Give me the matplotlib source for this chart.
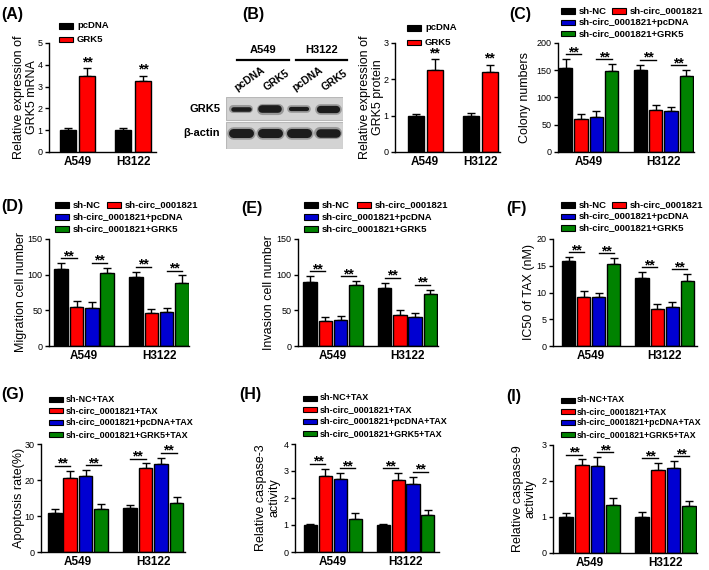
import numpy as np
import matplotlib.pyplot as plt
from matplotlib.patches import Rectangle

plt.rcParams['font.family'] = ['Liberation Sans', 'DejaVu Sans']

# Figure size in pixels
W, H = 709, 570

groups = ['A549', 'H3122']

# colours used by the series
c_black, c_red, c_blue, c_green = '#000000', '#ff0000', '#0000d2', '#008200'
four_colors = [c_black, c_red, c_blue, c_green]

# (A) GRK5 mRNA, rows = A549, H3122 ; cols = pcDNA, GRK5
a_labels = ['pcDNA', 'GRK5']
a_mean = [[1.0, 3.5], [1.0, 3.25]]
a_err = [[0.1, 0.35], [0.1, 0.25]]

# (B) GRK5 protein
b_labels = ['pcDNA', 'GRK5']
b_mean = [[1.0, 2.25], [1.0, 2.2]]
b_err = [[0.05, 0.3], [0.08, 0.2]]

# western blot lanes and band strength
blot_lanes = ['pcDNA', 'GRK5', 'pcDNA', 'GRK5']
blot_rows = ['GRK5', 'β-actin']
grk5_band = [0.6, 1.0, 0.55, 0.95]
actin_band = [1.0, 1.0, 1.0, 0.95]

sh_labels = ['sh-NC', 'sh-circ_0001821', 'sh-circ_0001821+pcDNA', 'sh-circ_0001821+GRK5']
tax_labels = ['sh-NC+TAX', 'sh-circ_0001821+TAX', 'sh-circ_0001821+pcDNA+TAX',
              'sh-circ_0001821+GRK5+TAX']

# (C) colony numbers
c_mean = [[155, 60, 65, 148], [150, 77, 75, 140]]
c_err = [[15, 10, 10, 13], [10, 10, 8, 10]]

# (D) migration
d_mean = [[108, 55, 53, 102], [97, 46, 48, 89]]
d_err = [[8, 8, 9, 8], [7, 6, 5, 10]]

# (E) invasion
e_mean = [[90, 35, 36, 85], [81, 43, 41, 73]]
e_err = [[8, 5, 6, 6], [8, 8, 5, 6]]

# (F) IC50 of TAX
f_mean = [[15.8, 9.2, 9.2, 15.4], [12.8, 7.0, 7.2, 12.2]]
f_err = [[0.8, 1.0, 0.8, 1.0], [1.0, 0.9, 1.0, 1.2]]

# (G) apoptosis rate
g_mean = [[10.7, 20.6, 21.1, 12.0], [12.3, 23.3, 24.4, 13.6]]
g_err = [[1.2, 2.0, 1.6, 1.4], [0.8, 1.3, 1.8, 1.8]]

# (H) caspase-3
h_mean = [[1.0, 2.8, 2.72, 1.23], [1.0, 2.65, 2.53, 1.37]]
h_err = [[0.05, 0.28, 0.2, 0.2], [0.04, 0.27, 0.25, 0.2]]

# (I) caspase-9
i_mean = [[1.0, 2.45, 2.43, 1.32], [1.0, 2.3, 2.35, 1.3]]
i_err = [[0.12, 0.15, 0.23, 0.2], [0.15, 0.2, 0.2, 0.15]]


fig = plt.figure(figsize=(W / 100, H / 100), dpi=100)


def px_rect(x0, y0, x1, y1):
    return [x0 / W, 1 - y1 / H, (x1 - x0) / W, (y1 - y0) / H]


def bar_panel(rect, xlim, ymax, ystep, ylabel, lab_x, means, errs, colors,
              pitch, width, pairs):
    ax = fig.add_axes(px_rect(*rect))
    means = np.array(means, dtype=float)
    errs = np.array(errs, dtype=float)
    n = means.shape[1]
    offsets = (np.arange(n) - (n - 1) / 2) * pitch
    x = np.arange(len(groups))
    for i in range(n):
        ax.bar(x + offsets[i], means[:, i], width, color=colors[i],
               edgecolor='black', linewidth=1, zorder=2)
        ax.errorbar(x + offsets[i], means[:, i], yerr=[np.zeros(len(x)), errs[:, i]],
                    fmt='none', ecolor='black', elinewidth=1, capsize=3,
                    capthick=1, zorder=1)
    tops = means + errs
    for g in range(len(x)):
        if pairs:
            for p, q in pairs:
                h = max(tops[g, p], tops[g, q]) + 0.045 * ymax
                x1, x2 = x[g] + offsets[p], x[g] + offsets[q]
                ax.plot([x1, x2], [h, h], color='black', lw=1, clip_on=False)
                ax.text((x1 + x2) / 2, h - 0.045 * ymax, '**', ha='center', va='bottom',
                        fontsize=10, fontweight='bold')
        else:
            ax.text(x[g] + offsets[-1], tops[g, -1] - 0.01 * ymax, '**', ha='center',
                    va='bottom', fontsize=10, fontweight='bold')
    ax.set_xlim(*xlim)
    ax.set_ylim(0, ymax)
    ax.set_yticks(np.arange(0, ymax + ystep / 2, ystep))
    ax.set_xticks(x)
    ax.set_xticklabels(groups, fontsize=8.5, fontweight='bold')
    ax.tick_params(axis='x', length=0, pad=3)
    ax.tick_params(axis='y', length=3, width=1, labelsize=6.5, pad=1.5)
    for s in ['top', 'right']:
        ax.spines[s].set_visible(False)
    for s in ['left', 'bottom']:
        ax.spines[s].set_linewidth(1)
    ax.set_ylabel(ylabel, fontsize=9, linespacing=1.1)
    ax.yaxis.set_label_coords(lab_x, 0.5)
    return ax


def legend_px(rows, x0, y0, dy, second_dx=0, fs=6.8, gap=18):
    for r, row in enumerate(rows):
        y = y0 + r * dy
        for j, (lab, col) in enumerate(row):
            xx = x0 + j * second_dx
            fig.patches.append(Rectangle((xx / W, 1 - (y + 2.5) / H), 14 / W, 5 / H,
                                         transform=fig.transFigure, facecolor=col,
                                         edgecolor='black', lw=0.8))
            fig.text((xx + gap) / W, 1 - y / H, lab, va='center', ha='left',
                     fontsize=fs, fontweight='bold')


def panel_letter(letter, x, y):
    fig.text(x / W, 1 - y / H, '(' + letter + ')', ha='left', va='center',
             fontsize=11.5, fontweight='bold')


pairs = [(0, 1), (2, 3)]
ab_pitch, ab_width = 0.35, 0.29
q_pitch, q_width = 0.205, 0.18

# ---- top row ----
bar_panel((49, 43, 156, 152), (-0.51, 1.41), 5, 1,
          'Relative expression of\nGRK5 mRNA', -0.10, a_mean, a_err,
          [c_black, c_red], ab_pitch, ab_width, None)
legend_px([[(a_labels[0], c_black)], [(a_labels[1], c_red)]], 59, 26, 13.5)
panel_letter('A', 1, 14)

bar_panel((395, 43, 500, 152), (-0.55, 1.36), 3, 1,
          'Relative expression of\nGRK5 protein', -0.105, b_mean, b_err,
          [c_black, c_red], ab_pitch, ab_width, None)
legend_px([[(b_labels[0], c_black)], [(b_labels[1], c_red)]], 407, 28, 14.5)
panel_letter('B', 242, 14)

# western blot
axb = fig.add_axes(px_rect(226, 97, 343, 149))
axb.set_xlim(-0.5, len(blot_lanes) - 0.5)
axb.set_ylim(0, 2)
axb.axis('off')
strip_color = '#d3d3d3'
axb.add_patch(Rectangle((-0.5, 1.1), len(blot_lanes), 0.9, facecolor=strip_color,
                        edgecolor='#b8b8b8', lw=0.8))
axb.add_patch(Rectangle((-0.5, 0.0), len(blot_lanes), 1.03, facecolor=strip_color,
                        edgecolor='#b8b8b8', lw=0.8))
row_y = [1.54, 0.6]
for r, strength in enumerate([grk5_band, actin_band]):
    for i, s in enumerate(strength):
        base = 5.5 * s if r == 0 else 6.5 * s
        axb.plot([i - 0.27, i + 0.27], [row_y[r], row_y[r]], color='#606060',
                 lw=base + 2.5, solid_capstyle='round', alpha=0.5)
        axb.plot([i - 0.27, i + 0.27], [row_y[r], row_y[r]], color='#1c1c1c',
                 lw=base, solid_capstyle='round')
for r, lab in enumerate(blot_rows):
    axb.text(-0.7, row_y[r], lab, ha='right', va='center', fontsize=8,
             fontweight='bold')
for i, lab in enumerate(blot_lanes):
    axb.text(i - 0.08, 2.15, lab, rotation=35, rotation_mode='anchor', ha='left',
             va='bottom', fontsize=7.5, fontweight='bold')
for g, lab in enumerate(groups):
    axb.plot([2 * g - 0.12, 2 * g + 1.65], [3.42, 3.42], color='black', lw=1.6,
             clip_on=False)
    axb.text(2 * g + 0.78, 3.82, lab, ha='center', va='center', fontsize=8,
             fontweight='bold')

bar_panel((558, 43, 694, 152), (-0.41, 1.41), 200, 50, 'Colony numbers', -0.2,
          c_mean, c_err, four_colors, q_pitch, q_width, pairs)
sh_rows = [[(sh_labels[0], c_black), (sh_labels[1], c_red)],
           [(sh_labels[2], c_blue)], [(sh_labels[3], c_green)]]
legend_px(sh_rows, 561, 11, 11.2, 51)
panel_letter('C', 509, 15)

# ---- middle row ----
bar_panel((49, 239, 189, 346), (-0.47, 1.40), 150, 50, 'Migration cell number', -0.157,
          d_mean, d_err, four_colors, q_pitch, q_width, pairs)
legend_px(sh_rows, 55, 205, 12, 52)
panel_letter('D', 1, 207)

bar_panel((298, 239, 438, 346), (-0.47, 1.41), 150, 50, 'Invasion cell number', -0.164,
          e_mean, e_err, four_colors, q_pitch, q_width, pairs)
legend_px(sh_rows, 304, 205, 12, 53)
panel_letter('E', 241, 208)

bar_panel((553, 239, 697, 346), (-0.52, 1.44), 20, 5, 'IC50 of TAX (nM)', -0.125,
          f_mean, f_err, four_colors, q_pitch, q_width, pairs)
legend_px(sh_rows, 561, 205, 11.5, 51)
panel_letter('F', 506, 208)

# ---- bottom row ----
tax_rows = [[(tax_labels[k], four_colors[k])] for k in range(4)]

bar_panel((41, 444, 185, 552), (-0.49, 1.42), 30, 10, 'Apoptosis rate(%)', -0.11,
          g_mean, g_err, four_colors, q_pitch, q_width, pairs)
legend_px(tax_rows, 49, 399, 11.7, fs=6.5, gap=17)
panel_letter('G', 1, 394)

bar_panel((295, 444, 439, 552), (-0.52, 1.46), 4, 1, 'Relative caspase-3\nactivity', -0.104,
          h_mean, h_err, four_colors, q_pitch, q_width, pairs)
legend_px(tax_rows, 303, 398, 11.9, fs=6.5, gap=17)
panel_letter('H', 239, 394)

bar_panel((553, 445, 697, 553), (-0.48, 1.41), 3, 1, 'Relative caspase-9\nactivity', -0.115,
          i_mean, i_err, four_colors, q_pitch, q_width, pairs)
legend_px(tax_rows, 561, 400, 11.4, fs=6.3, gap=16)
panel_letter('I', 506, 397)

fig.savefig('out.png', dpi=100)
